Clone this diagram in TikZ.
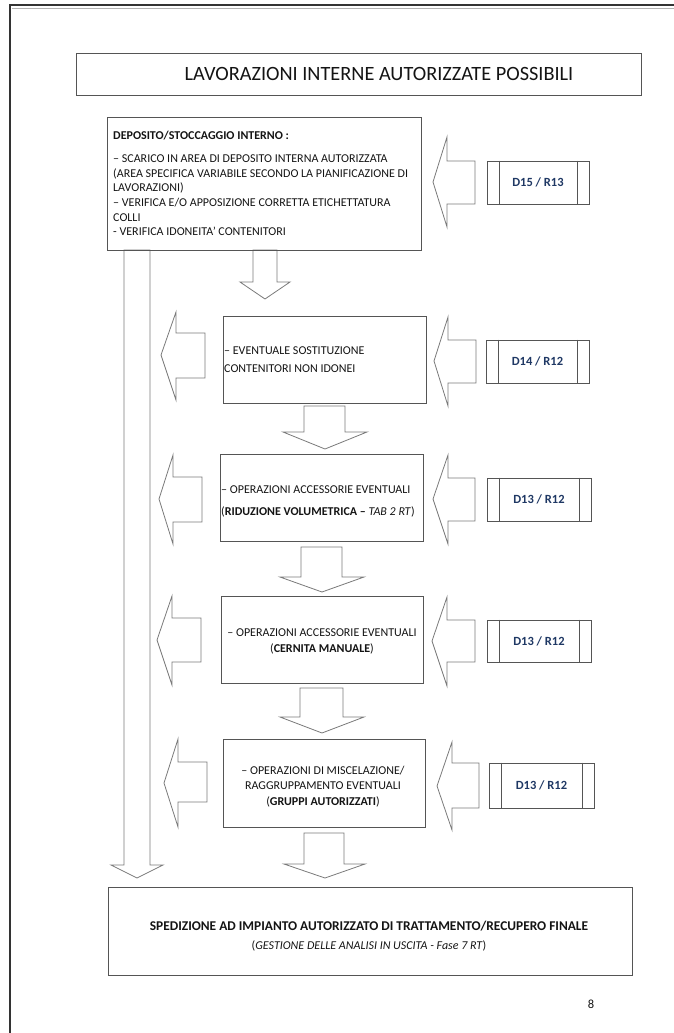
\documentclass[tikz,border=0pt]{standalone}
\usepackage{fontspec}
\setmainfont{Carlito}
\definecolor{ln}{HTML}{555555}
\definecolor{arr}{HTML}{7A7A7A}
\definecolor{dblue}{HTML}{1F3864}
\definecolor{txt}{HTML}{141414}
\newcommand\leftblk[8]{\draw[blockarrow] (#1,#2) -- (#3,#4) -- (#3,#7) -- (#6,#7) -- (#6,#8) -- (#3,#8) -- (#3,#5) -- cycle;}
\newcommand\downblk[8]{\draw[blockarrow] (#1,#3) -- (#2,#3) -- (#2,#4) -- (#6,#4) -- (#7,#8) -- (#5,#4) -- (#1,#4) -- cycle;}
\begin{document}
\begin{tikzpicture}[x=1pt,y=-1pt,
  box/.style={draw=ln, line width=0.9pt, inner sep=0pt},
  codebox/.style={draw=ln, line width=0.9pt, inner sep=0pt, font=\fontsize{12.5}{14}\selectfont\bfseries, text=dblue},
  blockarrow/.style={draw=arr, line width=0.8pt, fill=white, line join=miter},
  tx/.style={anchor=base west, inner sep=0pt, font=\fontsize{12}{14}\selectfont, text=txt},
  tc/.style={anchor=base, inner sep=0pt, font=\fontsize{12}{14}\selectfont, text=txt}]
\useasboundingbox (0,0) rectangle (674,1033);
% page border
\draw[line width=1.2pt, color=black!80] (10,1033) -- (10,5) -- (674,5);
\draw[line width=1pt, color=black!30] (12,8.5) -- (674,8.5);

% block arrows (drawn first)
\downblk{124}{150}{250}{865}{111}{163}{137}{878}
\downblk{253}{277}{250}{282}{240}{290}{265}{299}
\downblk{304}{345}{406}{432}{283}{367}{325}{449}
\downblk{301}{342}{547}{577}{280}{364}{322}{592}
\downblk{300}{343}{688}{717}{280}{364}{322}{733}
\downblk{304}{344}{833}{864}{284}{365}{325}{878}

\leftblk{433}{182}{447}{137}{227}{475}{161}{204}
\leftblk{434}{361}{448}{317}{406}{476}{340}{383}
\leftblk{433}{499}{448}{455}{544}{475}{478}{521}
\leftblk{432}{641}{447}{597}{686}{475}{620}{662}
\leftblk{437}{786}{452}{742}{830}{479}{763}{808}

\leftblk{161}{355}{176}{312}{400}{205}{333}{378}
\leftblk{159}{499}{173}{455}{544}{202}{477}{522}
\leftblk{157}{640}{172}{596}{685}{201}{618}{662}
\leftblk{164}{783}{178}{739}{827}{207}{762}{802}

% boxes
\node[box, minimum width=565pt, minimum height=42pt] (b0) at (358.5,74) {};
\node[box, minimum width=314pt, minimum height=133pt] (b1) at (264,183.5) {};
\node[box, minimum width=203pt, minimum height=87pt] (b2) at (324.5,359.5) {};
\node[box, minimum width=203pt, minimum height=87pt] (b3) at (321.5,497.5) {};
\node[box, minimum width=202pt, minimum height=87pt] (b4) at (322,639.5) {};
\node[box, minimum width=202pt, minimum height=88pt] (b5) at (324,783) {};
\node[box, minimum width=524pt, minimum height=88pt] (b6) at (370,931) {};

% code boxes
\node[codebox, minimum width=102pt, minimum height=43pt] (c1) at (538,182.5) {D15 / R13};
\node[codebox, minimum width=103pt, minimum height=43pt] (c2) at (537.5,361.5) {D14 / R12};
\node[codebox, minimum width=104pt, minimum height=43pt] (c3) at (539,499.5) {D13 / R12};
\node[codebox, minimum width=104pt, minimum height=42pt] (c4) at (539,641) {D13 / R12};
\node[codebox, minimum width=105pt, minimum height=45pt] (c5) at (541.5,785.5) {D13 / R12};
\foreach \c in {c1,c2,c3,c4,c5}{
  \draw[draw=ln, line width=0.9pt] ([xshift=12.5pt]\c.north west) -- ([xshift=12.5pt]\c.south west);
  \draw[draw=ln, line width=0.9pt] ([xshift=-12.5pt]\c.north east) -- ([xshift=-12.5pt]\c.south east);
}

% texts
\node[anchor=base, inner sep=0pt, font=\fontsize{20.3}{23}\selectfont, text=txt] (t0) at (379,81) {LAVORAZIONI INTERNE AUTORIZZATE POSSIBILI};

\node[tx] (t1a) at (113,139) {\textbf{DEPOSITO/STOCCAGGIO INTERNO :}};
\node[tx] (t1b) at (113,162) {– SCARICO IN AREA DI DEPOSITO INTERNA AUTORIZZATA};
\node[tx] (t1c) at (113,177) {(AREA SPECIFICA VARIABILE SECONDO LA PIANIFICAZIONE DI};
\node[tx] (t1d) at (113,191) {LAVORAZIONI)};
\node[tx] (t1e) at (113,206) {– VERIFICA E/O APPOSIZIONE CORRETTA ETICHETTATURA};
\node[tx] (t1f) at (113,221) {COLLI};
\node[tx] (t1g) at (113,235) {- VERIFICA IDONEITA’ CONTENITORI};

\node[tx] (t2a) at (224,354) {– EVENTUALE SOSTITUZIONE};
\node[tx] (t2b) at (224,372) {CONTENITORI NON IDONEI};

\node[tx] (t3a) at (221,493) {– OPERAZIONI ACCESSORIE EVENTUALI};
\node[tx] (t3b) at (221,515) {(\textbf{RIDUZIONE VOLUMETRICA –} \textit{TAB 2 RT})};

\node[tc] (t4a) at (322,636) {– OPERAZIONI ACCESSORIE EVENTUALI};
\node[tc] (t4b) at (322,652) {(\textbf{CERNITA MANUALE})};

\node[tc] (t5a) at (323,774) {– OPERAZIONI DI MISCELAZIONE/};
\node[tc] (t5b) at (323,789) {RAGGRUPPAMENTO EVENTUALI};
\node[tc] (t5c) at (323,805) {(\textbf{GRUPPI AUTORIZZATI})};

\node[tc, font=\fontsize{13.4}{15}\selectfont] (t6a) at (369,930.5) {\textbf{SPEDIZIONE AD IMPIANTO AUTORIZZATO DI TRATTAMENTO/RECUPERO FINALE}};
\node[tc] (t6b) at (369,949) {(\textit{GESTIONE DELLE ANALISI IN USCITA - Fase 7 RT})};

\node[tc, font=\fontsize{12.5}{14}\selectfont] (pg) at (591,1008) {8};
\end{tikzpicture}
\end{document}
